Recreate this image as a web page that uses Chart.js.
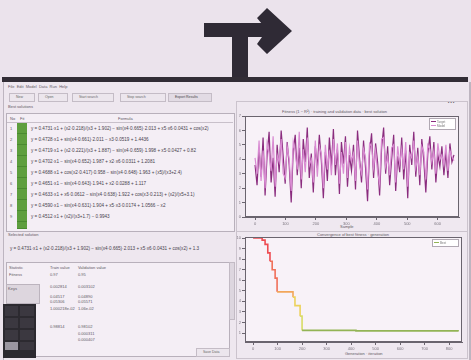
<!DOCTYPE html>
<html>
<head>
<meta charset="utf-8">
<script src="https://cdn.jsdelivr.net/npm/chart.js@4.4.1/dist/chart.umd.min.js"></script>
<style>
  html, body { margin: 0; padding: 0; }
  body { width: 471px; height: 360px; background: #ebe3ec; overflow: hidden; position: relative;
         font-family: "Liberation Sans", "DejaVu Sans", sans-serif; color: #5a5560; }
  #scene { position: absolute; left: 0; top: 0; width: 471px; height: 360px; filter: blur(0.6px); }
  .abs { position: absolute; }
  .t { position: absolute; font-size: 4px; line-height: 5px; white-space: nowrap; color: #5e5864; }
  .row { position: absolute; left: 31px; font-size: 4.6px; line-height: 5px; white-space: nowrap; color: #47414c; }
  .box { position: absolute; border: 1px solid #b8b0bb; background: #f4eef5; }
  .btn { position: absolute; height: 7px; border: 1px solid #c4bcc6; background: #ece6ed; font-size: 3.5px; line-height: 7px; color: #666; padding-left: 6px; }
  .green { position: absolute; left: 17px; width: 10px; height: 10px; background: #5e9e3e; border-bottom: 1px solid #4a8a30; }
  canvas { position: absolute; }
</style>
</head>
<body>
<div id="scene">
  <!-- arrow above the window -->
  <svg class="abs" style="left:0;top:0" width="471" height="90">
    <rect x="204" y="23" width="60" height="14" fill="#2f2a35"/>
    <rect x="232" y="35" width="16" height="46" fill="#2f2a35"/>
    <polygon points="257,18 267,8 292,31 267,54 257,44 262,37 262,24" fill="#2f2a35"/>
    <rect x="2" y="77" width="466" height="5" fill="#322d36"/>
  </svg>

  <!-- window body -->
  <div class="abs" style="left:3px;top:82px;width:465px;height:278px;background:#eee7ef;border-left:1px solid #bdb5c0;border-right:2px solid #bdb5c0;"></div>

  <!-- menu + toolbar -->
  <div class="t" style="left:8px;top:84px;">File&nbsp;&nbsp;Edit&nbsp;&nbsp;Model&nbsp;&nbsp;Data&nbsp;&nbsp;Run&nbsp;&nbsp;Help</div>
  <div class="btn" style="left:9px;top:93px;width:18px;">New</div>
  <div class="btn" style="left:38px;top:93px;width:22px;">Open</div>
  <div class="btn" style="left:72px;top:93px;width:34px;">Start search</div>
  <div class="btn" style="left:120px;top:93px;width:38px;">Stop search</div>
  <div class="btn" style="left:168px;top:93px;width:36px;background:#e2dbe4;color:#444;">Export Results</div>
  <div class="t" style="left:8px;top:104px;">Best solutions</div>

  <!-- solutions table -->
  <div class="box" style="left:6px;top:113px;width:227px;height:117px;"></div>
  <div class="t" style="left:10px;top:116px;">No</div>
  <div class="t" style="left:20px;top:116px;">Fit</div>
  <div class="t" style="left:118px;top:116px;">Formula</div>
  <div class="abs" style="left:7px;top:122px;width:226px;height:1px;background:#c8c0ca;"></div>
  <div class="green" style="top:123px;"></div>
  <div class="green" style="top:134px;"></div>
  <div class="green" style="top:145px;"></div>
  <div class="green" style="top:156px;"></div>
  <div class="green" style="top:167px;"></div>
  <div class="green" style="top:178px;"></div>
  <div class="green" style="top:189px;"></div>
  <div class="green" style="top:200px;"></div>
  <div class="green" style="top:211px;"></div>
  <div class="green" style="top:222px;height:6px;"></div>
  <div class="t" style="left:10px;top:126px;">1</div>
  <div class="t" style="left:10px;top:137px;">2</div>
  <div class="t" style="left:10px;top:148px;">3</div>
  <div class="t" style="left:10px;top:159px;">4</div>
  <div class="t" style="left:10px;top:170px;">5</div>
  <div class="t" style="left:10px;top:181px;">6</div>
  <div class="t" style="left:10px;top:192px;">7</div>
  <div class="t" style="left:10px;top:203px;">8</div>
  <div class="t" style="left:10px;top:214px;">9</div>
  <div class="row" style="top:126px;">y = 0.4731·x1 + (x2·0.218)/(x3 + 1.902) − sin(x4·0.665)·2.013 + x5·x6·0.0431 + cos(x2)</div>
  <div class="row" style="top:137px;">y = 0.4728·x1 + sin(x4·0.661)·2.011 − x3·0.0519 + 1.4436</div>
  <div class="row" style="top:148px;">y = 0.4719·x1 + (x2·0.221)/(x3 + 1.887) − sin(x4·0.659)·1.998 + x5·0.0427 + 0.82</div>
  <div class="row" style="top:159px;">y = 0.4702·x1 − sin(x4·0.652)·1.987 + x2·x6·0.0311 + 1.2081</div>
  <div class="row" style="top:170px;">y = 0.4688·x1 + cos(x2·0.417)·0.958 − sin(x4·0.648)·1.963 + (x5)/(x3+2.4)</div>
  <div class="row" style="top:181px;">y = 0.4651·x1 − sin(x4·0.643)·1.941 + x2·0.0288 + 1.117</div>
  <div class="row" style="top:192px;">y = 0.4633·x1 + x6·0.0612 − sin(x4·0.638)·1.922 + cos(x3·0.213) + (x2)/(x5+3.1)</div>
  <div class="row" style="top:203px;">y = 0.4590·x1 − sin(x4·0.631)·1.904 + x5·x3·0.0174 + 1.0566 − x2</div>
  <div class="row" style="top:214px;">y = 0.4512·x1 + (x2)/(x3+1.7) − 0.9943</div>

  <!-- selected solution -->
  <div class="t" style="left:8px;top:232px;">Selected solution</div>
  <div class="row" style="left:10px;top:246px;">y = 0.4731·x1 + (x2·0.218)/(x3 + 1.902) − sin(x4·0.665)·2.013 + x5·x6·0.0431 + cos(x2) + 1.3</div>
  <div class="box" style="left:6px;top:262px;width:222px;height:93px;"></div>
  <div class="abs" style="left:229px;top:262px;width:4px;height:56px;background:#ddd6df;border:1px solid #c2bac4;"></div>
  <div class="t" style="left:9px;top:265px;">Statistic</div>
  <div class="t" style="left:50px;top:265px;">Train value</div>
  <div class="t" style="left:78px;top:265px;">Validation value</div>
  <div class="t" style="left:9px;top:272px;">Fitness</div>
  <div class="t" style="left:50px;top:272px;">0.97</div>
  <div class="t" style="left:78px;top:272px;">0.95</div>
  <div class="t" style="left:50px;top:284px;">0.002814</div>
  <div class="t" style="left:78px;top:284px;">0.003102</div>
  <div class="t" style="left:50px;top:294px;">0.04517</div>
  <div class="t" style="left:78px;top:294px;">0.04890</div>
  <div class="t" style="left:50px;top:299px;">0.05306</div>
  <div class="t" style="left:78px;top:299px;">0.05571</div>
  <div class="t" style="left:50px;top:306px;">1.000218e-02</div>
  <div class="t" style="left:78px;top:306px;">1.06e-02</div>
  <div class="t" style="left:50px;top:324px;">0.98814</div>
  <div class="t" style="left:78px;top:324px;">0.98102</div>
  <div class="t" style="left:78px;top:331px;">0.000311</div>
  <div class="t" style="left:78px;top:337px;">0.000407</div>
  <div class="abs" style="left:6px;top:284px;width:32px;height:18px;background:#ddd6de;border:1px solid #bcb4be;"></div>
  <div class="t" style="left:8px;top:286px;">Keys</div>
  <div class="abs" style="left:3px;top:304px;width:33px;height:54px;background:#2c2a30;"></div>
  <div class="abs" style="left:5px;top:306px;width:13px;height:10px;background:#3b3840;"></div>
  <div class="abs" style="left:20px;top:306px;width:14px;height:10px;background:#3b3840;"></div>
  <div class="abs" style="left:5px;top:318px;width:13px;height:10px;background:#3b3840;"></div>
  <div class="abs" style="left:20px;top:318px;width:14px;height:10px;background:#3b3840;"></div>
  <div class="abs" style="left:5px;top:330px;width:13px;height:10px;background:#3b3840;"></div>
  <div class="abs" style="left:20px;top:330px;width:14px;height:10px;background:#3b3840;"></div>
  <div class="abs" style="left:5px;top:342px;width:13px;height:8px;background:#9a96a0;"></div>
  <div class="abs" style="left:20px;top:342px;width:14px;height:8px;background:#3b3840;"></div>
  <div class="btn" style="left:196px;top:348px;width:26px;">Save Data</div>

  <!-- right side panels -->
  <div class="abs" style="left:236px;top:101px;width:230px;height:129px;background:#efe8f0;border:1px solid #cbc3cd;"></div>
  <div class="abs" style="left:236px;top:231px;width:230px;height:126px;background:#efe8f0;border:1px solid #cbc3cd;"></div>
  <div class="t" style="left:448px;top:100px;">▪ ▪ ▪</div>
  <div class="t" style="left:282px;top:109px;">Fitness (1 − R²) · training and validation data · best solution</div>
  <div class="t" style="left:340px;top:224px;">Sample</div>
  <div class="t" style="left:317px;top:232px;">Convergence of best fitness · generation</div>
  <div class="t" style="left:345px;top:351px;">Generation · iteration</div>

  <canvas id="fitChart" width="230" height="128" style="left:236px;top:103px;"></canvas>
  <canvas id="convChart" width="232" height="130" style="left:236px;top:226px;"></canvas>
</div>

<script>
// top chart: sampled output, two overlaid series
const trainValues = [3.6,2.2,4.8,2.8,5.5,1.5,4.3,5.9,2.4,4.1,
  1.4,5.0,3.1,6.0,4.2,2.3,5.2,3.6,1.0,4.6,
  5.7,2.9,4.8,2.0,5.4,3.8,6.2,2.7,4.4,1.7,
  4.9,3.4,5.7,3.9,1.3,4.5,2.5,5.5,3.5,6.1,
  2.9,4.7,1.6,5.2,3.7,5.6,2.1,4.3,3.2,5.0,
  1.9,6.0,4.1,2.4,5.3,3.4,1.1,4.5,5.8,2.7,
  5.1,3.8,1.5,4.8,6.2,3.0,4.9,2.2,4.0,5.7,
  1.8,4.2,3.1,5.5,2.6,4.6,1.3,5.0,3.6,5.9,
  2.8,4.8,2.2,5.4,3.9,1.7,4.4,5.6,3.3,5.2,
  2.4,4.3,3.5,4.9,2.9,4.5,2.7,5.1,3.8,4.3];
const modelValues = [4.1,3.0,5.3,2.5,4.6,2.0,5.1,4.4,3.2,5.6,
  2.1,4.3,3.8,5.4,3.0,2.7,4.9,4.0,1.8,5.2,
  4.5,3.3,5.9,2.6,4.7,3.1,5.5,3.6,4.0,2.4,
  5.3,2.8,4.9,4.4,2.0,5.0,3.3,4.6,2.9,5.4,
  3.6,5.1,2.3,4.5,3.0,5.2,2.7,4.8,3.9,4.4,
  2.5,5.3,3.6,3.0,4.7,4.1,1.9,5.1,4.9,3.4,
  4.6,3.1,2.3,5.4,5.5,3.5,4.2,2.9,4.8,5.0,
  2.4,4.9,3.7,4.7,3.3,5.2,2.1,4.4,4.1,5.3,
  3.4,4.2,2.9,4.9,4.5,2.6,5.0,4.7,3.8,4.6,
  3.0,5.1,4.0,4.3,3.6,5.0,3.2,4.6,4.2,3.9];
const sampleStep = 6.6;

// bottom chart: best fitness per generation (stepped)
const generations = [0, 37, 49, 60, 69, 78, 90, 98, 151, 163, 171, 192, 200, 420, 837];
const bestFitness = [10.0, 9.8, 9.4, 8.6, 7.8, 7.0, 6.2, 4.9, 4.9, 4.4, 3.6, 2.6, 1.25, 1.2, 1.15];
const convTicks = [1, 2, 3, 4, 5, 6, 7, 8, 9, 10];

const frame = {
  id: "frame",
  afterDraw(chart) {
    const a = chart.chartArea, c = chart.ctx;
    c.save();
    c.strokeStyle = "#6a646e";
    c.lineWidth = 1;
    c.strokeRect(a.left + 0.5, a.top + 0.5, a.right - a.left - 1, a.bottom - a.top - 1);
    c.restore();
  }
};
const plotBg = {
  id: "plotBg",
  beforeDraw(chart) {
    const a = chart.chartArea, c = chart.ctx;
    c.save();
    c.fillStyle = "#f8f2f8";
    c.fillRect(a.left, a.top, a.right - a.left, a.bottom - a.top);
    c.restore();
  }
};
const legendBox = (lines) => ({
  id: "legendBox",
  afterDraw(chart) {
    const a = chart.chartArea, c = chart.ctx;
    c.save();
    c.fillStyle = "#ffffff";
    c.strokeStyle = "#b0a8b2";
    c.fillRect(a.right - 30, a.top + 2, 27, 4 + lines.length * 4);
    c.strokeRect(a.right - 29.5, a.top + 2.5, 26, 3 + lines.length * 4);
    c.font = "3px sans-serif";
    lines.forEach((l, i) => {
      c.fillStyle = l.color;
      c.fillRect(a.right - 28, a.top + 5 + i * 4, 5, 1);
      c.fillStyle = "#777";
      c.fillText(l.text, a.right - 22, a.top + 6.5 + i * 4);
    });
    c.restore();
  }
});

const tickFont = { size: 4, family: "Liberation Sans" };

new Chart(document.getElementById("fitChart"), {
  type: "line",
  data: {
    datasets: [
      { label: "Model", data: modelValues.map((v, i) => ({ x: i * sampleStep, y: v })),
        borderColor: "#d98bd2", borderWidth: 1.2, pointRadius: 0, tension: 0 },
      { label: "Target", data: trainValues.map((v, i) => ({ x: i * sampleStep, y: v })),
        borderColor: "#8a2c7e", borderWidth: 1.2, pointRadius: 0, tension: 0 }
    ]
  },
  options: {
    responsive: false,
    animation: false,
    layout: { padding: { top: 13, right: 7, left: 0, bottom: 0 } },
    plugins: { legend: { display: false }, tooltip: { enabled: false } },
    scales: {
      x: { type: "linear", min: -33, max: 670,
        afterBuildTicks: (ax) => { ax.ticks = [0, 100, 200, 300, 400, 500, 600].map(v => ({ value: v })); },
        afterFit: (ax) => { ax.height = 14; },
        grid: { drawOnChartArea: false, tickLength: 3, color: "#6a646e" },
        border: { color: "#6a646e" },
        ticks: { font: tickFont, color: "#7a747e", padding: 1, maxRotation: 0 } },
      y: { min: 0, max: 7,
        ticks: { stepSize: 1, font: tickFont, color: "#7a747e", padding: 1 },
        afterFit: (ax) => { ax.width = 9; },
        grid: { drawOnChartArea: false, tickLength: 3, color: "#6a646e" },
        border: { color: "#6a646e" } }
    }
  },
  plugins: [plotBg, frame, legendBox([{ color: "#8a2c7e", text: "Target" }, { color: "#d98bd2", text: "Model" }])]
});

const stepColor = (v) => v > 8 ? "#ee4c52" : v > 6 ? "#f0705a" : v > 4.5 ? "#f2a65a" : v > 3 ? "#ecd25c" : v > 1.5 ? "#d8dc66" : "#93b455";

new Chart(document.getElementById("convChart"), {
  type: "line",
  data: {
    datasets: [{
      label: "Best fitness",
      data: generations.map((g, i) => ({ x: g, y: bestFitness[i] })),
      stepped: "before",
      borderWidth: 1.6,
      pointRadius: 0,
      borderColor: "#93b455",
      segment: { borderColor: (ctx) => stepColor(Math.max(ctx.p0.parsed.y, ctx.p1.parsed.y) - 0.01) }
    }]
  },
  options: {
    responsive: false,
    animation: false,
    layout: { padding: { top: 11, right: 6, left: 0, bottom: 0 } },
    plugins: { legend: { display: false }, tooltip: { enabled: false } },
    scales: {
      x: { type: "linear", min: -33, max: 853,
        afterBuildTicks: (ax) => { ax.ticks = [0, 100, 200, 300, 400, 500, 600, 700, 800].map(v => ({ value: v })); },
        afterFit: (ax) => { ax.height = 14; },
        grid: { drawOnChartArea: false, tickLength: 3, color: "#6a646e" },
        border: { color: "#6a646e" },
        ticks: { font: tickFont, color: "#7a747e", padding: 1, maxRotation: 0 } },
      y: { min: 0.15, max: 10.1,
        afterBuildTicks: (ax) => { ax.ticks = convTicks.map(v => ({ value: v })); },
        afterFit: (ax) => { ax.width = 9; },
        ticks: { font: tickFont, color: "#7a747e", padding: 1 },
        grid: { drawOnChartArea: false, tickLength: 3, color: "#6a646e" },
        border: { color: "#6a646e" } }
    }
  },
  plugins: [plotBg, frame, legendBox([{ color: "#93b455", text: "Best" }])]
});
</script>
</body>
</html>
